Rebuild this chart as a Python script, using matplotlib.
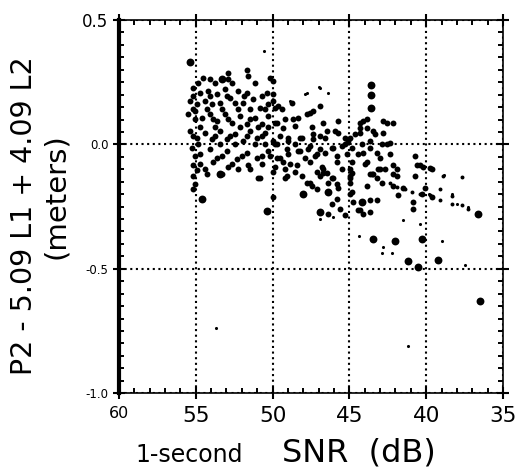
import matplotlib
matplotlib.use("Agg")
import matplotlib.pyplot as plt
from matplotlib.ticker import MultipleLocator

# 1-second SNR (dB) vs. P2 - 5.09 L1 + 4.09 L2 residual (m)

# main cloud of ordinary dots
cloud_pts = [
    (54.53, 0.266), (54.08, 0.262), (52.90, 0.286), (52.90, 0.262), (51.67, 0.300),
    (51.60, 0.274), (50.17, 0.266), (55.18, 0.226), (54.73, 0.206), (54.21, 0.214),
    (53.62, 0.202), (53.10, 0.222), (52.25, 0.214), (51.67, 0.206), (50.36, 0.206),
    (49.97, 0.202), (55.38, 0.173), (54.92, 0.161), (54.40, 0.173), (53.95, 0.161),
    (53.42, 0.165), (52.77, 0.185), (52.45, 0.165), (51.93, 0.165), (51.28, 0.181),
    (50.82, 0.145), (50.30, 0.161), (49.84, 0.145), (55.51, 0.121), (55.05, 0.133),
    (54.60, 0.105), (54.08, 0.121), (53.62, 0.093), (53.10, 0.121), (52.64, 0.085),
    (52.12, 0.113), (51.67, 0.081), (51.15, 0.105), (50.69, 0.081), (50.30, 0.113),
    (49.71, 0.085), (55.38, 0.052), (54.92, 0.024), (54.40, 0.044), (53.95, 0.020),
    (53.42, 0.052), (52.97, 0.020), (52.45, 0.040), (51.93, 0.012), (51.47, 0.052),
    (51.02, 0.024), (50.49, 0.044), (49.97, 0.012), (55.25, -0.016), (54.73, -0.040),
    (54.08, -0.020), (53.62, -0.056), (52.97, -0.028), (52.32, -0.060), (51.67, -0.036),
    (51.02, -0.056), (50.30, -0.028), (49.71, -0.056), (55.18, -0.081), (54.40, -0.097),
    (53.88, -0.069), (53.29, -0.121), (51.47, -0.097), (50.82, -0.137), (49.97, -0.109),
    (55.18, -0.129), (54.92, -0.101), (54.27, -0.121), (52.90, -0.089), (52.25, -0.097),
    (51.60, -0.081), (50.95, -0.137), (55.05, -0.161), (55.18, -0.181), (49.97, -0.210),
    (49.19, -0.137), (49.19, -0.097), (48.54, -0.109), (48.09, -0.129), (47.57, -0.157),
    (47.11, -0.181), (46.78, -0.089), (46.72, -0.117), (46.39, -0.157), (46.07, -0.137),
    (45.74, -0.177), (46.13, -0.238), (46.39, -0.278), (45.29, -0.282), (45.48, -0.097),
    (44.83, -0.117), (44.96, -0.157), (44.96, -0.198), (44.31, -0.262), (43.66, -0.270),
    (43.20, -0.222), (43.85, -0.169), (43.53, -0.121), (43.14, -0.097), (43.98, -0.077),
    (44.44, -0.040), (43.01, -0.056), (44.83, -0.069), (45.81, -0.048), (46.59, -0.036),
    (47.11, -0.040), (47.89, -0.056), (47.70, -0.020), (48.35, -0.028), (49.00, -0.040),
    (49.52, -0.056), (49.84, 0.000), (49.00, 0.012), (48.22, 0.024), (47.37, 0.020),
    (46.59, 0.024), (45.94, 0.052), (45.29, 0.024), (44.64, 0.040), (43.85, 0.065),
    (43.33, 0.040), (42.88, 0.000), (45.48, -0.008), (46.13, -0.016), (44.83, -0.016),
    (44.18, 0.000), (43.66, -0.016), (49.97, 0.254), (49.97, 0.173), (49.65, 0.153),
    (48.74, 0.165), (46.91, 0.153), (47.37, 0.133), (47.76, 0.121), (48.35, 0.105),
    (46.72, 0.085), (45.74, 0.093), (44.31, 0.085), (43.85, 0.101), (42.55, 0.085),
    (42.16, 0.085), (49.84, 0.085), (49.32, 0.065), (48.54, 0.073), (49.00, 0.024),
    (48.09, 0.024), (47.37, 0.040), (46.46, 0.052), (45.74, 0.044), (45.09, 0.012),
    (44.31, 0.044), (43.66, 0.012), (42.81, 0.044), (42.36, 0.004), (49.71, 0.000),
    (49.06, -0.020), (48.22, -0.028), (47.57, -0.008), (46.91, -0.020), (46.07, -0.016),
    (45.16, -0.040), (44.11, -0.036), (43.20, -0.036), (42.36, -0.040), (49.32, -0.069),
    (48.41, -0.081), (47.57, -0.069), (46.72, -0.097), (45.81, -0.069), (44.96, -0.097),
    (43.85, -0.069), (43.01, -0.097), (42.16, -0.081), (49.06, -0.129), (46.91, -0.129),
    (44.96, -0.137), (43.46, -0.121), (42.16, -0.121), (40.73, -0.048), (40.40, -0.081),
    (39.75, -0.093), (42.81, 0.093), (42.55, 0.000), (43.46, 0.052), (44.11, 0.093),
    (44.31, 0.065), (44.96, 0.024), (45.29, 0.000), (47.57, 0.125), (49.84, -0.089),
    (47.76, -0.157), (47.43, -0.169), (47.11, -0.109), (46.46, -0.117), (46.13, -0.137),
    (45.81, -0.161), (45.81, -0.218), (45.61, -0.258), (44.96, -0.129), (44.83, -0.190),
    (44.77, -0.230), (44.44, -0.262), (44.11, -0.278), (43.66, -0.222), (43.66, -0.121),
    (43.20, -0.137), (42.88, -0.157), (42.68, -0.097), (41.90, -0.097), (41.90, -0.129),
    (42.16, -0.169), (41.84, -0.202), (41.51, -0.177), (40.73, -0.129), (40.86, -0.230),
    (40.86, -0.258), (40.27, -0.198), (40.08, -0.177), (39.62, -0.210), (40.21, -0.089),
    (39.62, -0.097), (40.60, -0.081),
    # denser fill of the 55-49 dB lump
    (54.86, 0.246), (53.75, 0.246), (52.64, 0.246), (51.15, 0.246), (55.18, 0.194),
    (54.08, 0.194), (52.97, 0.194), (51.86, 0.194), (50.69, 0.194), (55.18, 0.141),
    (54.27, 0.141), (53.29, 0.141), (52.25, 0.141), (51.47, 0.141), (50.49, 0.141),
    (49.39, 0.141), (55.05, 0.101), (53.88, 0.101), (52.90, 0.101), (51.47, 0.101),
    (49.19, 0.101), (48.67, 0.101), (54.73, 0.069), (53.75, 0.069), (52.12, 0.069),
    (50.95, 0.069), (50.30, 0.069), (47.43, 0.069), (55.18, 0.032), (53.75, 0.032),
    (52.77, 0.032), (51.67, 0.032), (50.69, 0.032), (49.52, 0.032), (46.91, 0.032),
    (54.86, 0.000), (53.42, 0.000), (52.45, 0.000), (51.15, 0.000), (50.49, 0.000),
    (48.54, 0.000), (55.05, -0.048), (53.29, -0.048), (51.99, -0.048), (50.69, -0.048),
    (50.17, -0.048), (47.24, -0.048), (54.73, -0.077), (52.64, -0.077), (50.69, -0.077),
    (48.87, -0.077),
]

# thin diagonal tail running out to ~36.5 dB
tail_pts = [
    (42.36, -0.157), (41.90, -0.170), (41.40, -0.180), (40.90, -0.190), (40.40, -0.200),
    (39.75, -0.202), (39.10, -0.222), (38.32, -0.238), (37.67, -0.242), (37.28, -0.258),
    (38.91, -0.129), (37.67, -0.133), (38.32, -0.206), (39.10, -0.181),
]

# heavy dots
big_pts = [
    (55.38, 0.330), (53.29, 0.262), (43.60, 0.240), (43.60, 0.200), (43.60, 0.145),
    (53.42, -0.121), (54.60, -0.218), (50.36, -0.266), (48.02, -0.198), (46.39, -0.190),
    (46.91, -0.270), (44.18, -0.230), (43.46, -0.379), (42.03, -0.387), (41.18, -0.468),
    (40.27, -0.379), (40.53, -0.492), (39.23, -0.464), (36.50, -0.629), (36.63, -0.278),
]

# faint specks
small_pts = [
    (50.56, 0.375), (53.70, -0.740), (41.20, -0.810), (47.89, 0.202), (46.98, 0.230),
    (46.39, 0.206), (47.76, 0.206), (46.91, 0.226), (48.87, 0.173), (46.91, -0.300),
    (46.07, -0.290), (42.81, -0.411), (42.23, -0.435), (42.88, -0.435), (38.97, -0.387),
    (37.47, -0.484), (44.38, -0.367), (41.51, -0.302), (40.40, -0.319), (40.92, -0.230),
    (38.84, -0.125), (37.70, -0.130), (39.10, -0.180), (38.30, -0.200), (38.00, -0.240),
    (37.30, -0.250), (39.80, -0.200), (40.70, -0.130), (40.20, -0.200),
]

x_ticks = [60, 55, 50, 45, 40, 35]
y_ticks = [-1.0, -0.5, 0.0, 0.5]
y_ticklabels = ['-1.0', '-0.5', '0.0', '0.5']

fig = plt.figure(figsize=(5.17, 4.76), dpi=100)
ax = fig.add_axes([0.230, 0.174, 0.743, 0.784])

for pts, s in [(cloud_pts, 18), (tail_pts, 8), (big_pts, 32), (small_pts, 5)]:
    xs, ys = zip(*pts)
    ax.scatter(xs, ys, s=s, c='black', linewidths=0, zorder=3)

ax.set_xlim(60, 35)
ax.set_ylim(-1.0, 0.5)

ax.set_xticks(x_ticks)
ax.set_xticklabels([str(t) for t in x_ticks], family='DejaVu Sans')
ax.set_yticks(y_ticks)
ax.set_yticklabels(y_ticklabels, family='DejaVu Sans')
ax.xaxis.set_minor_locator(MultipleLocator(1))
ax.yaxis.set_minor_locator(MultipleLocator(0.05))

ax.tick_params(which='major', direction='inout', length=9, width=1.5,
               top=True, right=True, labelsize=15.5, pad=5)
ax.tick_params(which='minor', direction='in', length=3.5, width=1.4,
               top=True, right=True)
ax.tick_params(axis='y', labelsize=8.5, pad=3)

for lab in ax.get_xticklabels():
    if lab.get_text() == '60':
        lab.set_fontsize(11.5)
for lab in ax.get_yticklabels():
    if lab.get_text() == '0.5':
        lab.set_fontsize(12)

ax.grid(True, which='major', color='black', lw=1.5, ls=(0, (1, 1.7)))

for side in ['top', 'right', 'bottom']:
    ax.spines[side].set_linewidth(1.2)
ax.spines['left'].set_linewidth(3)

fig.text(0.046, 0.548, 'P2 - 5.09 L1 + 4.09 L2', rotation=90, fontsize=20.5,
         ha='center', va='center', family='DejaVu Sans')
fig.text(0.108, 0.588, '(meters)', rotation=90, fontsize=21,
         ha='center', va='center', family='DejaVu Sans')

fig.text(0.262, 0.030, '1-second', fontsize=17, ha='left', va='baseline',
         family='DejaVu Sans')
fig.text(0.545, 0.030, 'SNR  (dB)', fontsize=23, ha='left', va='baseline',
         family='DejaVu Sans')

fig.savefig('out.png', dpi=100)
